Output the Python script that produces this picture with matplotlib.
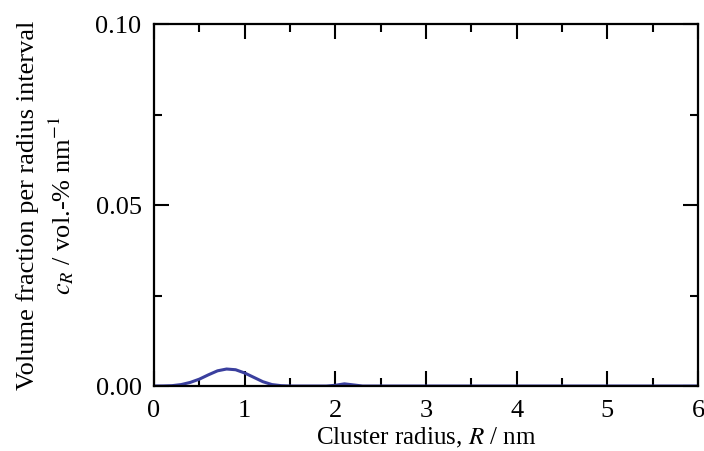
import matplotlib
matplotlib.use("Agg")
import matplotlib.pyplot as plt
from matplotlib.ticker import MultipleLocator

plt.rcParams['font.family'] = ['Liberation Serif', 'DejaVu Serif']
plt.rcParams['mathtext.fontset'] = 'stix'

# Verteilung der Clusterradien
radius = [0.0, 0.1, 0.2, 0.3, 0.4, 0.5, 0.6, 0.7, 0.8, 0.9, 1.0, 1.1, 1.2, 1.3, 1.4, 1.5,
          1.9, 2.0, 2.1, 2.2, 2.3, 3.0, 4.0, 5.0, 6.0]
c_r = [0.0, 0.00002, 0.0001, 0.0004, 0.0010, 0.0019, 0.0031, 0.0042, 0.0047, 0.0045,
       0.0036, 0.0024, 0.0012, 0.0004, 0.0001, 0.0,
       0.0, 0.0002, 0.0006, 0.0003, 0.0, 0.0, 0.0, 0.0, 0.0]

fig = plt.figure(figsize=(7.04, 4.51), dpi=100)
ax = fig.add_axes([0.2188, 0.1441, 0.7727, 0.8016])

ax.plot(radius, c_r, color='#3a3f9e', lw=2.2)

ax.set_xlim(0, 6)
ax.set_ylim(0, 0.10)
ax.xaxis.set_major_locator(MultipleLocator(1))
ax.xaxis.set_minor_locator(MultipleLocator(0.5))
ax.yaxis.set_major_locator(MultipleLocator(0.05))
ax.yaxis.set_minor_locator(MultipleLocator(0.025))
ax.yaxis.set_major_formatter(matplotlib.ticker.FormatStrFormatter('%.2f'))

ax.tick_params(which='both', direction='in', top=True, right=True, width=1.5,
               labelsize=19)
ax.tick_params(which='major', length=11)
ax.tick_params(axis='y', which='major', pad=9)
ax.tick_params(axis='x', which='major', pad=10)
ax.tick_params(which='minor', length=6)
for s in ax.spines.values():
    s.set_linewidth(1.6)

ax.set_xlabel('Cluster radius, $R$ / nm', fontsize=18, labelpad=3)
ax.set_ylabel('Volume fraction per radius interval\n$c_R$ / vol.-% nm$^{-1}$',
              fontsize=19, labelpad=14, linespacing=1.3)

fig.savefig('out.png', dpi=100)
